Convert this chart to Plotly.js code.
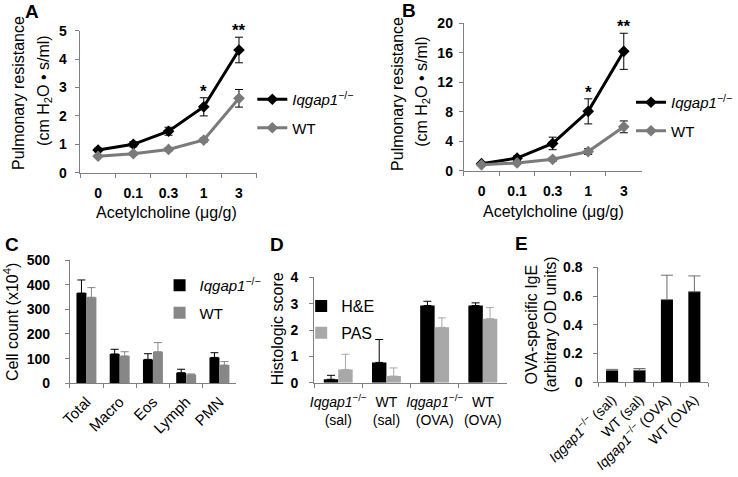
<!DOCTYPE html>
<html><head><meta charset="utf-8">
<script src="https://cdn.plot.ly/plotly-3.0.1.min.js"></script>
<style>html,body{margin:0;padding:0;background:#fff}#chart{width:738px;height:477px}</style>
</head><body><div id="chart"></div>
<script>
// ---- Panel A / B : airway resistance vs acetylcholine dose ----
const doses = ["0", "0.1", "0.3", "1", "3"];
const aKO = [0.80, 1.00, 1.46, 2.32, 4.32];
const aKOerr = [0.06, 0.09, 0.14, 0.32, 0.45];
const aWT = [0.58, 0.67, 0.82, 1.15, 2.62];
const aWTerr = [0.04, 0.05, 0.05, 0.07, 0.31];
const bKO = [0.95, 1.70, 3.70, 8.05, 16.2];
const bKOerr = [0.15, 0.30, 0.85, 1.70, 2.45];
const bWT = [0.80, 1.05, 1.55, 2.60, 5.95];
const bWTerr = [0.10, 0.15, 0.25, 0.40, 0.80];
// significance marks (category index of dose, label)
const sigIdx = [3, 4];
const sigText = ["*", "**"];
// ---- Panel C : BAL cell counts ----
const cellTypes = ["Total", "Macro", "Eos", "Lymph", "PMN"];
const cKO = [366, 119, 97, 43, 105];
const cKOerr = [53, 19, 23, 14, 19];
const cWT = [349, 111, 128, 35, 74];
const cWTerr = [39, 17, 37, 3, 14];
// ---- Panel D : histologic score ----
const dGroups = ["KO sal", "WT sal", "KO OVA", "WT OVA"];
const dTickLabels = ["<i>Iqgap1</i><sup>−/−</sup><br>(sal)", "WT<br>(sal)", "<i>Iqgap1</i><sup>−/−</sup><br>(OVA)", "WT<br>(OVA)"];
const dHE = [0.13, 0.77, 2.93, 2.93];
const dHEerr = [0.15, 0.87, 0.16, 0.10];
const dPAS = [0.50, 0.25, 2.10, 2.43];
const dPASerr = [0.58, 0.31, 0.36, 0.42];
// ---- Panel E : OVA-specific IgE ----
const eGroups = ["KO sal", "WT sal", "KO OVA", "WT OVA"];
const eTickLabels = ["<i>Iqgap1</i><sup>−/−</sup> (sal)", "WT (sal)", "<i>Iqgap1</i><sup>−/−</sup> (OVA)", "WT (OVA)"];
const eIgE = [0.082, 0.084, 0.575, 0.630];
const eIgEerr = [0.008, 0.012, 0.170, 0.110];

const KO_NAME = "<i>Iqgap1</i><sup>−/−</sup>";
const W = 738, H = 477;
const fx = p => p / W;
const fy = p => 1 - p / H;
const FONT = "Liberation Sans, Arial, sans-serif";
const AX = "#808080";
const zeros = n => new Array(n).fill(0);

function lineTrace(y, err, name, color, xa, ya, leg, grp) {
  return {type: "scatter", mode: "lines+markers", x: doses, y: y, name: name,
    xaxis: xa, yaxis: ya, legend: leg, legendgroup: grp,
    line: {color: color, width: 3}, marker: {symbol: "diamond", size: 9, color: color},
    error_y: {type: "data", array: err, visible: true, color: "#000", thickness: 1, width: 4}};
}
function barTrace(x, y, err, name, color, ecolor, xa, ya, leg, grp) {
  return {type: "bar", x: x, y: y, name: name, xaxis: xa, yaxis: ya, legend: leg, legendgroup: grp,
    marker: {color: color, line: {width: 0}},
    error_y: {type: "data", array: err, arrayminus: zeros(err.length), symmetric: false,
      visible: true, color: ecolor, thickness: 1, width: 4}};
}

const data = [
  lineTrace(aKO, aKOerr, KO_NAME, "#000000", "x", "y", "legend", "a1"),
  lineTrace(aWT, aWTerr, "WT", "#7a7a7a", "x", "y", "legend", "a2"),
  lineTrace(bKO, bKOerr, KO_NAME, "#000000", "x2", "y2", "legend2", "b1"),
  lineTrace(bWT, bWTerr, "WT", "#7a7a7a", "x2", "y2", "legend2", "b2"),
  barTrace(cellTypes, cKO, cKOerr, KO_NAME, "#000000", "#000000", "x3", "y3", "legend3", "c1"),
  barTrace(cellTypes, cWT, cWTerr, "WT", "#878787", "#878787", "x3", "y3", "legend3", "c2"),
  barTrace(dGroups, dHE, dHEerr, "H&amp;E", "#000000", "#000000", "x4", "y4", "legend4", "d1"),
  barTrace(dGroups, dPAS, dPASerr, "PAS", "#a8a8a8", "#a8a8a8", "x4", "y4", "legend4", "d2"),
  Object.assign(barTrace(eGroups, eIgE, eIgEerr, "IgE", "#000000", "#6e6e6e", "x5", "y5", "legend4", "e1"),
    {showlegend: false, width: 0.44})
];
data[8].error_y.width = 6;

function xax(d, extra) {
  return Object.assign({domain: [fx(d[0]), fx(d[1])], type: "category", range: [-0.5, 4.5],
    showline: true, linecolor: AX, linewidth: 1, ticks: "outside", ticklen: 4, tickcolor: AX,
    tickson: "boundaries", showgrid: false, zeroline: false, fixedrange: true,
    tickfont: {family: FONT, size: 14, color: "#000"}}, extra || {});
}
function yax(d, range, dtick, anchor, standoff) {
  return {domain: [fy(d[1]), fy(d[0])], range: range, dtick: dtick, anchor: anchor,
    showline: true, linecolor: AX, linewidth: 1, ticks: "outside", ticklen: 4, tickcolor: AX,
    showgrid: false, zeroline: false, ticklabelstandoff: standoff,
    tickfont: {family: FONT, size: 14, color: "#000", weight: "bold"}};
}
function legendAt(x, y, size, gap) {
  return {x: fx(x), y: fy(y), xanchor: "left", yanchor: "top", bgcolor: "rgba(0,0,0,0)",
    font: {family: FONT, size: size, color: "#000"}, tracegroupgap: gap, traceorder: "grouped",
    borderwidth: 0};
}
function ann(text, x, y, size, opts) {
  return Object.assign({text: text, x: fx(x), y: fy(y), xref: "paper", yref: "paper",
    showarrow: false, xanchor: "center", yanchor: "middle",
    font: {family: FONT, size: size, color: "#000"}}, opts || {});
}
function stars(xa, ya, vals, errs) {
  return sigIdx.map((i, k) => ({text: sigText[k], x: i, y: vals[i] + errs[i], xref: xa, yref: ya,
    showarrow: false, yanchor: "bottom", yshift: -5,
    font: {family: FONT, size: 17, color: "#000", weight: "bold"}}));
}
const bold = s => ({family: FONT, size: s, color: "#000", weight: "bold"});

const boldX = {tickfont: bold(14), tickangle: 0, ticklabelstandoff: 7};
const layout = {
  width: W, height: H, margin: {l: 0, r: 0, t: 0, b: 0},
  paper_bgcolor: "#fff", plot_bgcolor: "rgba(0,0,0,0)",
  font: {family: FONT, color: "#000"},
  barmode: "group", bargap: 0.4, bargroupgap: 0,
  xaxis: xax([80.7, 257.3], Object.assign({anchor: "y"}, boldX)),
  yaxis: yax([30.7, 172.7], [0, 5], 1, "x", 6),
  xaxis2: xax([465, 643.3], Object.assign({anchor: "y2"}, boldX)),
  yaxis2: yax([23.3, 170.7], [0, 20], 4, "x2", 3),
  xaxis3: xax([70, 236.7], {anchor: "y3", tickangle: -45, ticklabelstandoff: 3,
    tickfont: {family: FONT, size: 15, color: "#000"}}),
  yaxis3: yax([260, 383.3], [0, 500], 100, "x3", 12),
  xaxis4: xax([315, 508.3], {anchor: "y4", range: [-0.5, 3.5], tickangle: 0, ticklabelstandoff: 6,
    tickvals: dGroups, ticktext: dTickLabels, tickfont: {family: FONT, size: 14, color: "#000"}}),
  yaxis4: yax([277.3, 382.7], [0, 4], 1, "x4", 8),
  xaxis5: xax([600, 710], {anchor: "y5", range: [-0.5, 3.5], tickangle: -45, ticklabelstandoff: 3,
    tickvals: eGroups, ticktext: eTickLabels, tickfont: {family: FONT, size: 14, color: "#000"}}),
  yaxis5: yax([267.3, 382.3], [0, 0.8], 0.2, "x5", 8),
  legend: legendAt(253, 83, 15, 6),
  legend2: legendAt(633, 86, 15, 6),
  legend3: legendAt(160, 269, 15, 5),
  legend4: legendAt(302, 289, 16, 3),
  annotations: [
    ann("A", 32, 12, 19, {font: bold(19)}),
    ann("B", 410, 10, 19, {font: bold(19)}),
    ann("C", 12, 245, 19, {font: bold(19)}),
    ann("D", 278, 245, 19, {font: bold(19)}),
    ann("E", 523, 243, 19, {font: bold(19)}),
    ann("Pulmonary resistance", 19, 93, 16, {textangle: -90}),
    ann("(cm H<sub>2</sub>O • s/ml)", 44, 91, 16, {textangle: -90}),
    ann("Pulmonary resistance", 398, 94, 16, {textangle: -90}),
    ann("(cm H<sub>2</sub>O • s/ml)", 423, 92, 16, {textangle: -90}),
    ann("Acetylcholine (μg/g)", 167, 212, 16),
    ann("Acetylcholine (μg/g)", 555, 211, 16),
    ann("Cell count (x10<sup>4</sup>)", 11, 322, 16, {textangle: -90}),
    ann("Histologic score", 278, 329, 16, {textangle: -90}),
    ann("OVA-specific IgE", 532, 325, 16, {textangle: -90}),
    ann("(arbitrary OD units)", 551, 325, 16, {textangle: -90})
  ].concat(stars("x", "y", aKO, aKOerr), stars("x2", "y2", bKO, bKOerr))
};

Plotly.newPlot("chart", data, layout, {displayModeBar: false, staticPlot: true});
</script>
</body></html>
